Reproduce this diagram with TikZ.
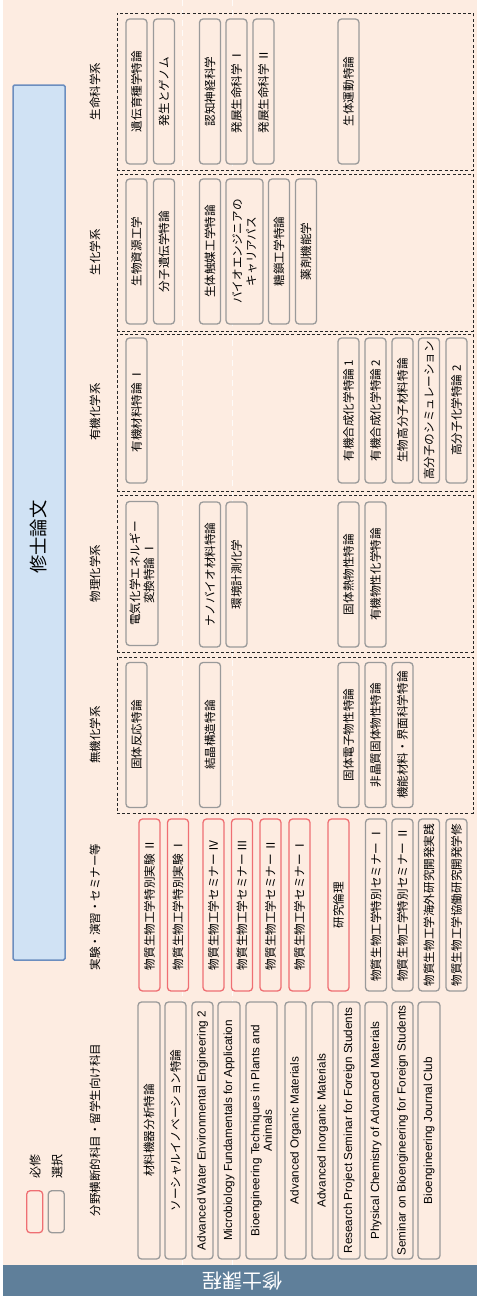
\documentclass[tikz,border=0pt]{standalone}
\usepackage{fontspec}
\setmainfont{Liberation Sans}
\newfontfamily\jp{Noto Sans CJK JP}
\definecolor{bg}{HTML}{FDECE1}
\definecolor{bandc}{HTML}{5F7F9A}
\definecolor{thfill}{HTML}{D0E2F4}
\definecolor{thdraw}{HTML}{6C8EBF}
\definecolor{boxred}{HTML}{EF6F73}
\definecolor{boxgray}{HTML}{9A9A9A}
\tikzset{
  bx/.style={rounded corners=3.5pt, line width=1.3pt, fill=bg, inner sep=0pt, rotate=90, align=center, font=\jp\fontsize{11.6}{14}\selectfont},
  gbx/.style={bx, draw=boxgray},
  rbx/.style={bx, draw=boxred},
  ebx/.style={gbx, font=\fontsize{11.7}{12.5}\selectfont},
  grp/.style={draw=black!85, dash pattern=on 3pt off 2.2pt, line width=0.9pt, inner sep=0pt},
  hdr/.style={rotate=90, inner sep=0pt, font=\jp\fontsize{11.5}{13}\selectfont},
  guide/.style={draw=white, opacity=0.8, line width=0.7pt, dash pattern=on 6pt off 4pt},
}
\newcommand\bx[7]{\node[#1, minimum width=#6pt, minimum height=#4pt] (#2) at (#3,#5) {#7};}
\begin{document}
\begin{tikzpicture}[x=1pt,y=-1pt]
\useasboundingbox (0,0) rectangle (477,1296);
\fill[white] (0,0) rectangle (477,1296);
\fill[bg] (3,0) rectangle (477,1265);
\node[fill=bandc, minimum width=474pt, minimum height=31pt, inner sep=0pt, anchor=north west] (band) at (3,1265) {};
\node[rotate=180, text=white, inner sep=0pt, font=\jp\fontsize{20}{22}\selectfont] (bandtext) at (242,1281) {修士課程};
% faint guide lines
\coordinate (ga1) at (182.5,0); \coordinate (ga2) at (182.5,1265);
\coordinate (gb1) at (232,0); \coordinate (gb2) at (232,1265);
\draw[guide] (ga1) -- (ga2);
\draw[guide] (gb1) -- (gb2);
% thesis box
\node[fill=thfill, draw=thdraw, line width=1.5pt, rounded corners=1.5pt, minimum width=52pt, minimum height=875pt, inner sep=0pt] (thesis) at (39,522.5) {};
\node[rotate=90, inner sep=0pt, font=\jp\fontsize{18.3}{20}\selectfont] (thesistext) at (39,537) {修士論文};
% headers
\node[hdr] (h1) at (95,91.5) {生命科学系};
\node[hdr] (h2) at (95,252) {生化学系};
\node[hdr] (h3) at (95,412) {有機化学系};
\node[hdr] (h4) at (95,573.5) {物理化学系};
\node[hdr] (h5) at (95,735) {無機化学系};
\node[hdr] (h6) at (95,907) {実験・演習・セミナー等};
\node[hdr] (h7) at (95,1130) {分野横断的科目・留学生向け科目};
% groups
\node[grp, minimum width=356pt, minimum height=157pt] (g1) at (295,91.5) {};
\node[grp, minimum width=356pt, minimum height=157pt] (g2) at (295,252.5) {};
\node[grp, minimum width=356pt, minimum height=157pt] (g3) at (295,412.5) {};
\node[grp, minimum width=356pt, minimum height=157pt] (g4) at (295,573.5) {};
\node[grp, minimum width=356pt, minimum height=156pt] (g5) at (295,735) {};
% 生命科学系
\bx{gbx}{a1}{136.5}{21}{91.5}{145}{遺伝育種学特論}
\bx{gbx}{a2}{164}{21}{91.5}{145}{発生とゲノム}
\bx{gbx}{a3}{210}{21}{91.5}{145}{認知神経科学}
\bx{gbx}{a4}{236.5}{21}{91.5}{145}{発展生命科学 Ⅰ}
\bx{gbx}{a5}{263.5}{21}{91.5}{145}{発展生命科学 Ⅱ}
\bx{gbx}{a6}{348.5}{21}{91.5}{145}{生体運動特論}
% 生化学系
\bx{gbx}{b1}{136.5}{21}{251.5}{145}{生物資源工学}
\bx{gbx}{b2}{164}{21}{251.5}{145}{分子遺伝学特論}
\bx{gbx}{b3}{210}{21}{251.5}{145}{生体触媒工学特論}
\bx{gbx}{b4}{244.5}{37}{251.5}{145}{バイオエンジニアの\\キャリアパス}
\bx{gbx}{b5}{279}{21}{251.5}{145}{糖鎖工学特論}
\bx{gbx}{b6}{306}{21}{251.5}{145}{薬剤機能学}
% 有機化学系
\bx{gbx}{c1}{136.5}{21}{410.5}{145}{有機材料特論 Ⅰ}
\bx{gbx}{c2}{348.5}{21}{410.5}{145}{有機合成化学特論 1}
\bx{gbx}{c3}{375.5}{21}{410.5}{145}{有機合成化学特論 2}
\bx{gbx}{c4}{402.5}{21}{410.5}{145}{生物高分子材料特論}
\bx{gbx}{c5}{429}{21}{410.5}{145}{高分子のシミュレーション}
\bx{gbx}{c6}{456.5}{21}{410.5}{145}{高分子化学特論 2}
% 物理化学系
\bx{gbx}{d1}{142}{32}{573.5}{144}{電気化学エネルギー\\変換特論 Ⅰ}
\bx{gbx}{d2}{210}{21}{574.5}{145}{ナノバイオ材料特論}
\bx{gbx}{d3}{236.5}{21}{574.5}{145}{環境計測化学}
\bx{gbx}{d4}{348.5}{21}{574.5}{145}{固体熱物性特論}
\bx{gbx}{d5}{375.5}{21}{574.5}{145}{有機物性化学特論}
% 無機化学系
\bx{gbx}{e1}{136.5}{21}{735}{145}{固体反応特論}
\bx{gbx}{e2}{210}{21}{735}{145}{結晶構造特論}
\bx{gbx}{e3}{348.5}{21}{735}{145}{固体電子物性特論}
\bx{gbx}{e4}{375.5}{21}{735}{145}{非晶質固体物性特論}
\bx{gbx}{e5}{402.5}{21}{735}{145}{機能材料・界面科学特論}
% 実験・演習・セミナー等
\bx{rbx}{f1}{149.5}{21}{905}{172}{物質生物工学特別実験 Ⅱ}
\bx{rbx}{f2}{178}{21}{905}{172}{物質生物工学特別実験 Ⅰ}
\bx{rbx}{f3}{213.5}{21}{905}{172}{物質生物工学セミナー Ⅳ}
\bx{rbx}{f4}{242}{21}{905}{172}{物質生物工学セミナー Ⅲ}
\bx{rbx}{f5}{270.5}{21}{905}{172}{物質生物工学セミナー Ⅱ}
\bx{rbx}{f6}{299.5}{21}{905}{172}{物質生物工学セミナー Ⅰ}
\bx{rbx}{f7}{338.5}{21}{905}{172}{研究倫理}
\bx{gbx}{f8}{376}{21}{905}{172}{物質生物工学特別セミナー Ⅰ}
\bx{gbx}{f9}{402.5}{21}{905}{172}{物質生物工学特別セミナー Ⅱ}
\bx{gbx}{f10}{429}{21}{905}{172}{物質生物工学海外研究開発実践}
\bx{gbx}{f11}{456.5}{21}{905}{172}{物質生物工学協働研究開発学修}
% 分野横断的科目
\bx{gbx}{k1}{149}{22}{1130.5}{257}{材料機器分析特論}
\bx{gbx}{k2}{175.5}{21}{1130.5}{257}{ソーシャルイノベーション特論}
\bx{ebx}{k3}{202.5}{21}{1130.5}{257}{Advanced Water Environmental Engineering 2}
\bx{ebx}{k4}{229}{22}{1130.5}{257}{Microbiology Fundamentals for Application}
\bx{ebx}{k5}{261.5}{31}{1130.5}{257}{Bioengineering Techniques in Plants and\\Animals}
\bx{ebx}{k6}{295.5}{21}{1130.5}{257}{Advanced Organic Materials}
\bx{ebx}{k7}{322.5}{21}{1130.5}{257}{Advanced Inorganic Materials}
\bx{ebx}{k8}{349}{22}{1130.5}{257}{Research Project Seminar for Foreign Students}
\bx{ebx}{k9}{376}{22}{1130.5}{257}{Physical Chemistry of Advanced Materials}
\bx{ebx}{k10}{402.5}{21}{1130.5}{257}{Seminar on Bioengineering for Foreign Students}
\bx{ebx}{k11}{429}{22}{1130.5}{257}{Bioengineering Journal Club}
% legend
\node[rounded corners=3.5pt, line width=1.3pt, draw=boxred, minimum width=16pt, minimum height=42pt, inner sep=0pt] (lr) at (34.7,1211.7) {};
\node[rounded corners=3.5pt, line width=1.3pt, draw=boxgray, minimum width=16pt, minimum height=42pt, inner sep=0pt] (lg) at (56.3,1211.7) {};
\node[hdr, font=\jp\fontsize{12}{14}\selectfont] (lrt) at (35,1166.5) {必修};
\node[hdr, font=\jp\fontsize{12}{14}\selectfont] (lgt) at (57,1166.5) {選択};
\end{tikzpicture}
\end{document}
